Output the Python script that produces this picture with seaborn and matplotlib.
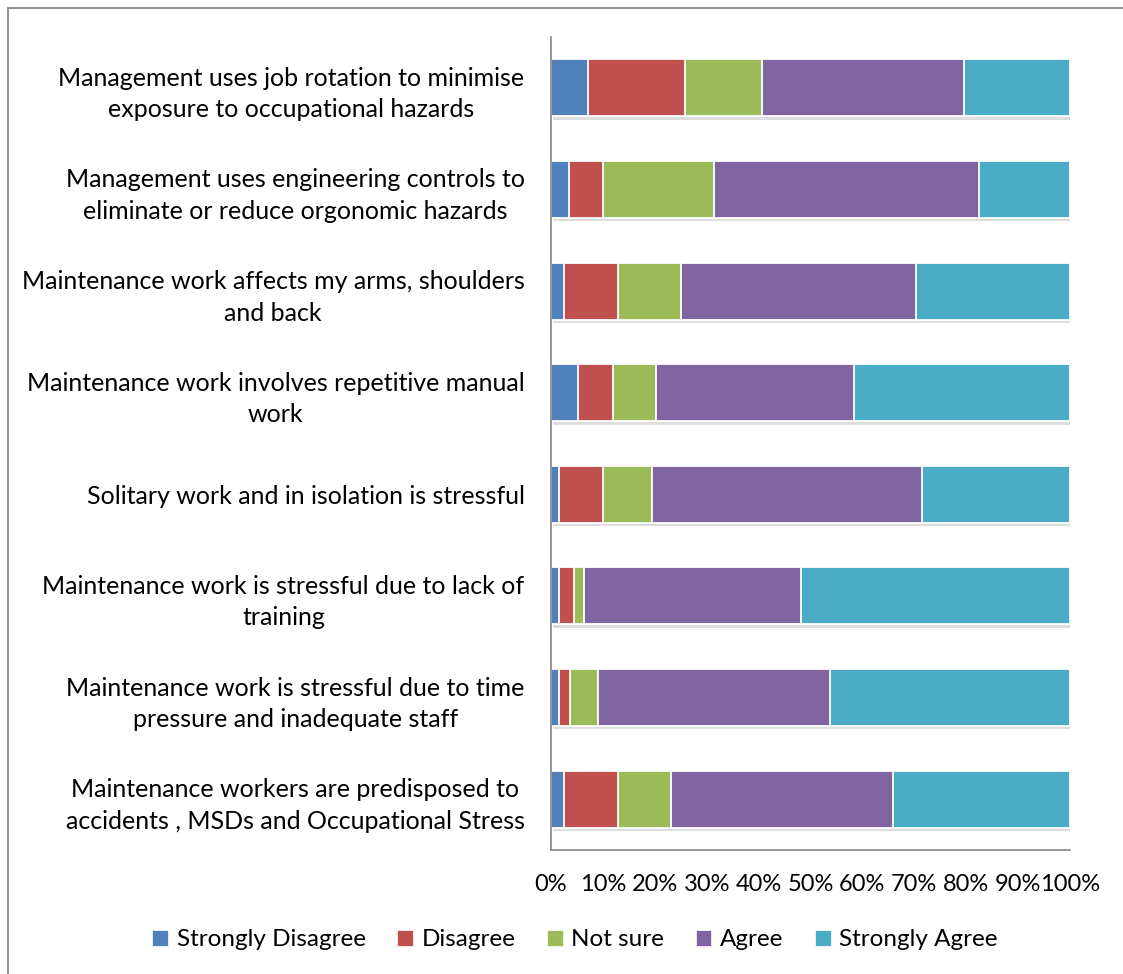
import numpy as np
import pandas as pd
import matplotlib
matplotlib.use("Agg")
import matplotlib.pyplot as plt
import seaborn as sns
from matplotlib import patheffects as pe
from matplotlib.patches import Rectangle, Patch
from matplotlib.ticker import FuncFormatter

# Survey statements (top to bottom)
statements = [
    "Management uses job rotation to minimise\nexposure to occupational hazards",
    "Management uses engineering controls to\neliminate or reduce orgonomic hazards",
    "Maintenance work affects my arms, shoulders\nand back",
    "Maintenance work involves repetitive manual\nwork",
    "Solitary work and in isolation is stressful",
    "Maintenance work is stressful due to lack of\ntraining",
    "Maintenance work is stressful due to time\npressure and inadequate staff",
    "Maintenance workers are predisposed to\naccidents , MSDs and Occupational Stress",
]

responses = ["Strongly Disagree", "Disagree", "Not sure", "Agree", "Strongly Agree"]

# Share of respondents (%) per response level
strongly_disagree = [7.1, 3.4, 2.5, 5.2, 1.5, 1.5, 1.5, 2.5]
disagree = [18.7, 6.6, 10.4, 6.7, 8.6, 2.9, 2.1, 10.4]
not_sure = [14.9, 21.4, 12.1, 8.4, 9.3, 1.9, 5.5, 10.2]
agree = [38.9, 51.1, 45.4, 38.0, 52.0, 41.8, 44.6, 42.7]
strongly_agree = [20.4, 17.5, 29.6, 41.7, 28.6, 51.9, 46.3, 34.2]

colors = ["#4F81BD", "#C0504D", "#9BBB59", "#8064A2", "#4BACC6"]

values = np.array([strongly_disagree, disagree, not_sure, agree, strongly_agree])
shares = values / values.sum(axis=0)
cumulative = np.cumsum(shares, axis=0)

FONT = ["Lato", "DejaVu Sans"]
plt.rcParams["font.family"] = FONT

fig = plt.figure(figsize=(11.23, 9.74), dpi=100)
ax = fig.add_axes([551 / 1123, 1 - 850 / 974, (1070 - 551) / 1123, (850 - 37) / 974])

# Stack by drawing cumulative totals from the widest layer down
for k in range(len(responses) - 1, -1, -1):
    df = pd.DataFrame({"statement": statements, "cum": cumulative[k]})
    n_before = len(ax.patches)
    sns.barplot(data=df, x="cum", y="statement", order=statements, orient="h",
                color=colors[k], saturation=1, width=0.56, errorbar=None,
                edgecolor="white", linewidth=1.3, ax=ax)
    if k == len(responses) - 1:
        for p in ax.patches[n_before:]:
            p.set_path_effects([pe.SimplePatchShadow(offset=(1.5, -2.5), alpha=0.18,
                                                     shadow_rgbFace="#444444"),
                                pe.Normal()])

ax.set_xlim(0, 1)
ax.set_ylim(len(statements) - 0.5, -0.5)
ax.set_xticks(np.linspace(0, 1, 11))
ax.xaxis.set_major_formatter(FuncFormatter(lambda v, _: f"{v * 100:.0f}%"))
ax.set_xlabel("")
ax.set_ylabel("")

for side in ["top", "right"]:
    ax.spines[side].set_visible(False)
for side in ["left", "bottom"]:
    ax.spines[side].set_color("#868686")
    ax.spines[side].set_linewidth(1.2)

ax.tick_params(axis="x", length=0, pad=17, labelsize=17, colors="black")
ax.tick_params(axis="y", length=0, pad=19, labelsize=18, colors="black")
for lab in ax.get_yticklabels():
    lab.set_multialignment("center")
    lab.set_linespacing(1.45)
ax.set_facecolor("white")

# Outer chart frame
fig.patches.append(Rectangle((8 / 1123, -0.1), 1.2, 1 - 8 / 974 + 0.1,
                             transform=fig.transFigure, fill=False,
                             edgecolor="#868686", linewidth=1.3))

handles = [Patch(facecolor=c, edgecolor="white", linewidth=0.5) for c in colors]
fig.legend(handles, responses, loc="center", ncol=5, frameon=False,
           bbox_to_anchor=(575 / 1123, 1 - 940 / 974), fontsize=17.5,
           handlelength=0.65, handleheight=0.65, handletextpad=0.35,
           columnspacing=1.3)

fig.savefig("out.png", dpi=100, facecolor="white")
